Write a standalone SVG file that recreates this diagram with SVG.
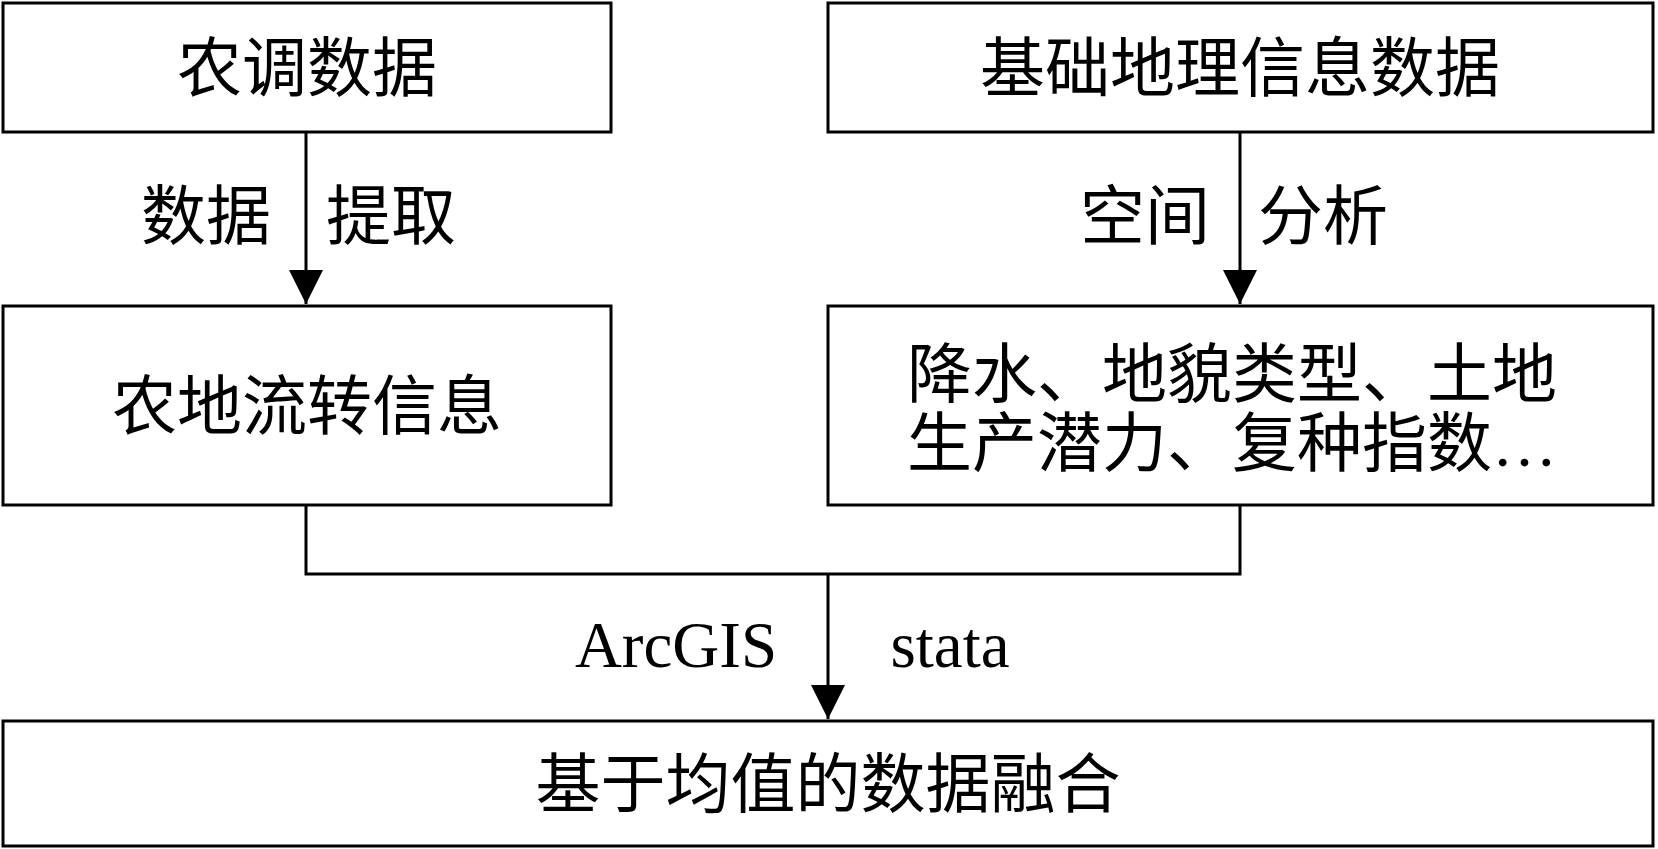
<svg xmlns="http://www.w3.org/2000/svg" width="1658" height="849" viewBox="0 0 1658 849">
<style>
.b{fill:#fff;stroke:#000;stroke-width:3}
text{font-family:"Liberation Serif","Noto Sans CJK SC",serif;font-size:65px;fill:#000;text-anchor:middle;dominant-baseline:central}
.c path{fill:none;stroke:#000;stroke-width:3}
</style>
<defs><marker id="a" markerUnits="userSpaceOnUse" markerWidth="34" markerHeight="34" refX="34" refY="17" orient="auto"><path d="M0,0L34,17L0,34Z" fill="#000"/></marker></defs>
<rect width="1658" height="849" fill="#fff"/>
<g class="c">
<path d="M306,132V304" marker-end="url(#a)"/>
<path d="M1240,132V304" marker-end="url(#a)"/>
<path d="M306,505V574H1240V505"/>
<path d="M828,574V719" marker-end="url(#a)"/>
</g>
<g id="n1"><rect class="b" x="3" y="3" width="608" height="129"/><text x="307" y="69">农调数据</text></g>
<g id="n2"><rect class="b" x="828" y="3" width="825" height="129"/><text x="1240" y="69">基础地理信息数据</text></g>
<g id="n3"><rect class="b" x="3" y="306" width="608" height="199"/><text x="307" y="407">农地流转信息</text></g>
<g id="n4"><rect class="b" x="828" y="306" width="825" height="199"/><text x="907" y="375" style="text-anchor:start">降水、地貌类型、土地</text><text x="907" y="444" style="text-anchor:start">生产潜力、复种指数…</text></g>
<g id="n5"><rect class="b" x="3" y="721" width="1650" height="125"/><text x="828" y="785">基于均值的数据融合</text></g>
<text x="206" y="217">数据</text><text x="391" y="217">提取</text>
<text x="1145" y="217">空间</text><text x="1323" y="217">分析</text>
<text x="676" y="645">ArcGIS</text><text x="950" y="645">stata</text>
</svg>
